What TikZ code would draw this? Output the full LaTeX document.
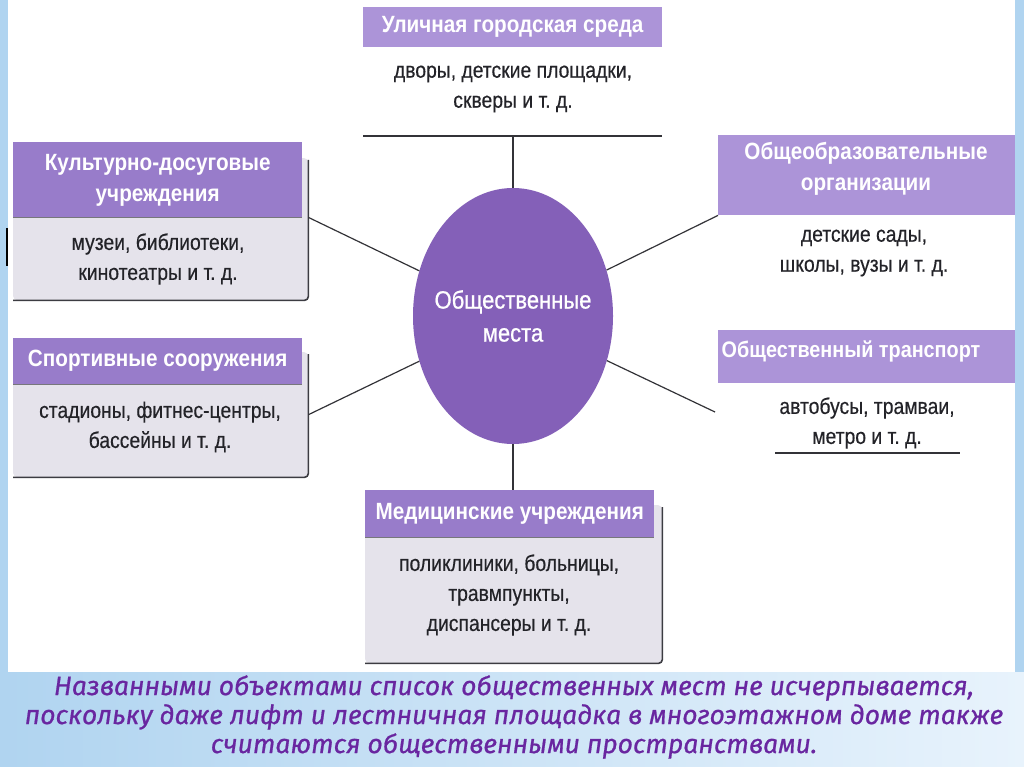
\documentclass[tikz,border=0pt]{standalone}
\usepackage{fontspec}
\usetikzlibrary{shapes.geometric}
\newfontfamily\hdrfont[FakeStretch=0.88]{Liberation Sans}
\newfontfamily\bodyfont[FakeStretch=0.86,FakeBold=0.4]{Liberation Sans}
\newfontfamily\ellfont[FakeStretch=0.88,FakeBold=0.8]{Liberation Sans}
\newfontfamily\capfont[FakeBold=0.7]{Fira Sans}
\definecolor{hdrA}{RGB}{172,148,216}
\definecolor{hdrB}{RGB}{152,124,202}
\definecolor{ellc}{RGB}{132,96,184}
\definecolor{cardc}{RGB}{229,227,235}
\definecolor{edgec}{RGB}{60,60,66}
\definecolor{txt}{RGB}{35,35,40}
\definecolor{capc}{RGB}{105,38,160}
\definecolor{frameA}{RGB}{176,212,240}
\definecolor{frameB}{RGB}{232,243,252}
\tikzset{
  hdr/.style={fill=hdrA, text=white, inner sep=0pt, anchor=north west},
  hdrdark/.style={hdr, fill=hdrB},
  htext/.style={text=white, align=center, inner sep=0pt, font=\hdrfont\bfseries\fontsize{23.5}{31}\selectfont},
  btext/.style={text=txt, align=center, inner sep=0pt, font=\bodyfont\fontsize{22.5}{30}\selectfont},
  card/.style={fill=cardc, inner sep=0pt, anchor=north west, rounded corners=4pt},
  cardedge/.style={draw=edgec, line width=1.6pt, rounded corners=4pt},
  conn/.style={draw=edgec!85!black, line width=1.2pt},
}
\begin{document}
\begin{tikzpicture}[x=1pt,y=-1pt]
\useasboundingbox (0,0) rectangle (1024,767);
% background frame
\fill[frameA] (0,0) rectangle (1024,767);
\shade[left color=frameA, right color=frameB] (0,672) rectangle (1024,767);
\fill[white] (8,0) rectangle (1015,672);
\draw[black, line width=1.5pt] (7,228) -- (7,266);

% top: street environment
\node[hdr, minimum width=299, minimum height=40] (ulH) at (363,7) {};
\node[htext] (ulHt) at (ulH.center) {Уличная городская среда};
\node[btext] (ulT) at (513,89) {дворы, детские площадки,\\скверы и т.~д.};
\coordinate (ulL) at (363,136);
\coordinate (ulR) at (662,136);
\draw[conn] (ulL) -- (ulR);

% left 1: culture
\node[card, minimum width=295, minimum height=142] (cultB) at (13,158) {};
\draw[cardedge] ([yshift=-2pt]cultB.north east) -- (cultB.south east) -- (cultB.south west);
\node[hdrdark, minimum width=289, minimum height=75] (cultH) at (13,142) {};
\draw[edgec!70, line width=1pt] (cultH.south west) -- (cultH.south east);
\node[htext] (cultHt) at ([yshift=-1pt]cultH.center) {Культурно-досуговые\\учреждения};
\node[btext] (cultT) at (158,259) {музеи, библиотеки,\\кинотеатры и т.~д.};

% left 2: sport
\node[card, minimum width=295, minimum height=125] (sportB) at (13,352) {};
\draw[cardedge] ([yshift=-2pt]sportB.north east) -- (sportB.south east) -- (sportB.south west);
\node[hdrdark, minimum width=289, minimum height=46] (sportH) at (13,338) {};
\draw[edgec!70, line width=1pt] (sportH.south west) -- (sportH.south east);
\node[htext] (sportHt) at (sportH.center) {Спортивные сооружения};
\node[btext] (sportT) at (160,427) {стадионы, фитнес-центры,\\бассейны и т.~д.};

% bottom: medical
\node[card, minimum width=297, minimum height=158] (medB) at (365,505) {};
\draw[cardedge] ([yshift=-2pt]medB.north east) -- (medB.south east) -- (medB.south west);
\node[hdrdark, minimum width=289, minimum height=47] (medH) at (365,490) {};
\draw[edgec!70, line width=1pt] (medH.south west) -- (medH.south east);
\node[htext] (medHt) at (medH.center) {Медицинские учреждения};
\node[btext] (medT) at (509,595) {поликлиники, больницы,\\травмпункты,\\диспансеры и т.~д.};

% right 1: schools
\node[hdr, minimum width=297, minimum height=80] (schH) at (718,135) {};
\node[htext] (schHt) at (866,169) {Общеобразовательные\\организации};
\node[btext] (schT) at (864,253) {детские сады,\\школы, вузы и т.~д.};

% right 2: transport
\node[hdr, minimum width=297, minimum height=53] (trH) at (718,330) {};
\node[htext, font=\hdrfont\bfseries\fontsize{22.5}{31}\selectfont] (trHt) at (851,351) {Общественный транспорт};
\node[btext] (trT) at (867,423) {автобусы, трамваи,\\метро и т.~д.};
\coordinate (trL) at (775,453);
\coordinate (trR) at (960,453);
\draw[conn] (trL) -- (trR);

% centre
\node[ellipse, fill=ellc, minimum width=200, minimum height=256, inner sep=0pt] (ell) at (513,316) {};
\node[text=white, align=center, inner sep=0pt, font=\ellfont\fontsize{25}{33}\selectfont] (ellT) at (ell.center) {Общественные\\места};

% connectors
\coordinate (trC) at (715,412);
\draw[conn] (ell.north) -- (ell.north |- ulL);
\draw[conn] (ell.south) -- (ell.south |- medH.north);
\draw[conn] (cultB.east |- cultH.south) -- (ell);
\draw[conn] (sportB.east) -- (ell);
\draw[conn] (schH.south west) -- (ell);
\draw[conn] (trC) -- (ell);

% caption
\node[text=capc, align=center, inner sep=0pt, font=\capfont\itshape\fontsize{26.5}{29}\selectfont] (cap) at (514,717)
 {Названными объектами список общественных мест не исчерпывается,\\поскольку даже лифт и лестничная площадка в многоэтажном доме также\\считаются общественными пространствами.};
\end{tikzpicture}
\end{document}
